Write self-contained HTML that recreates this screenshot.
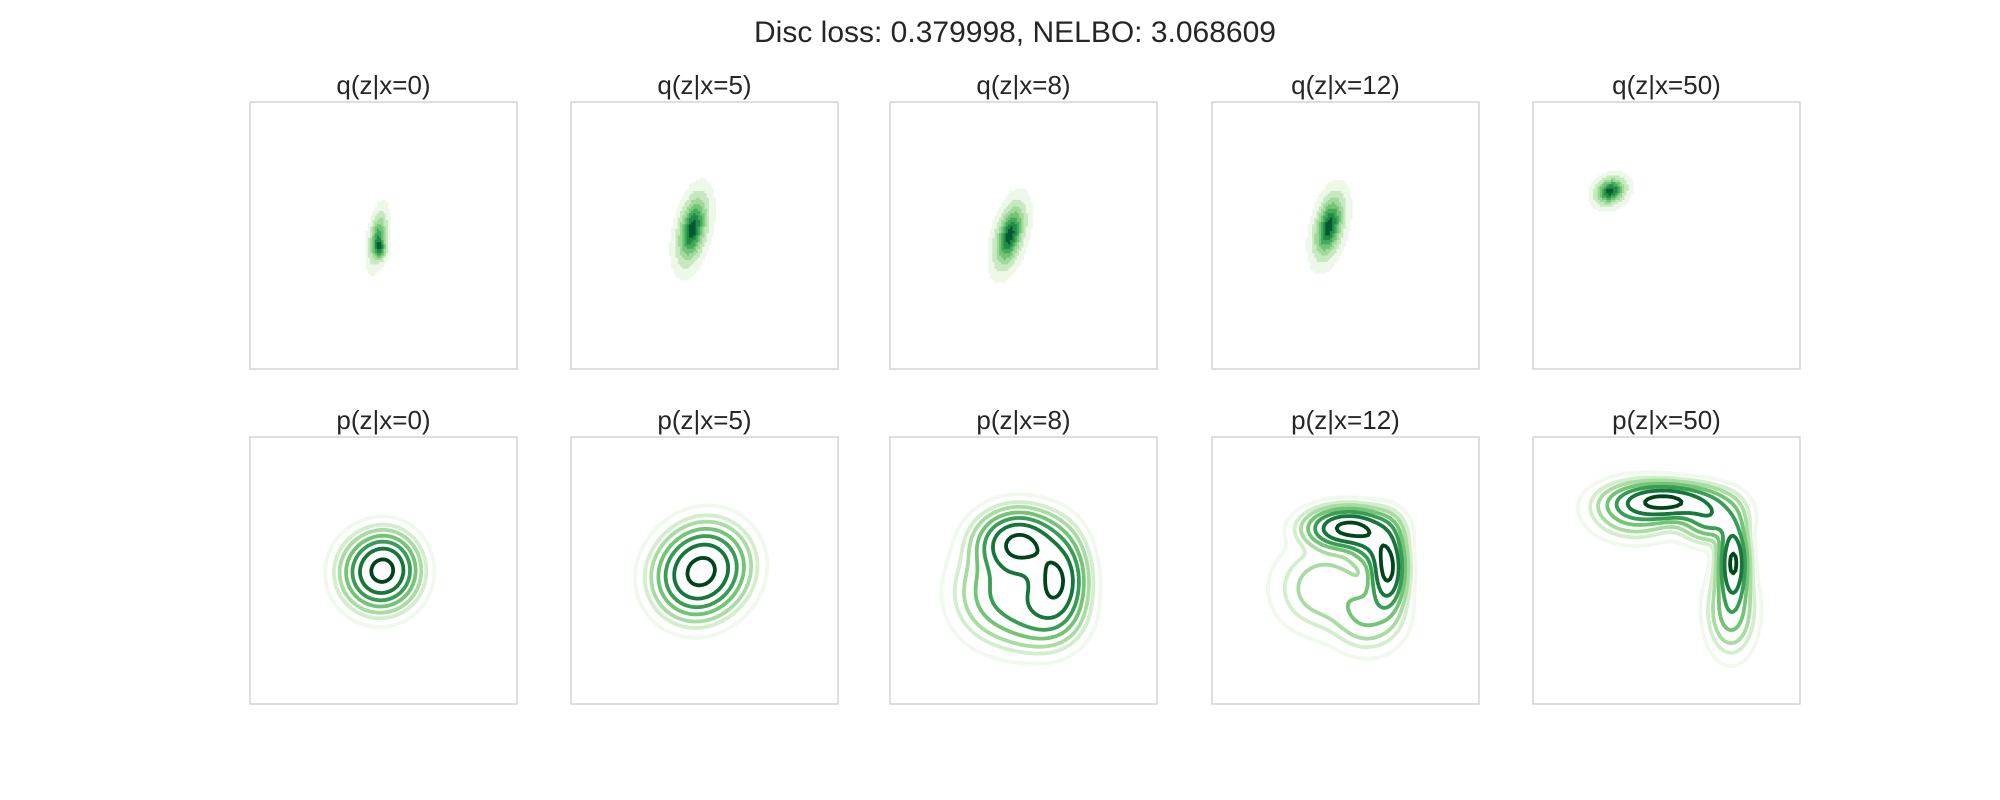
<!DOCTYPE html>
<html><head><meta charset="utf-8"><style>
body{margin:0;background:#fff;width:2000px;height:800px;overflow:hidden;font-family:"Liberation Sans",sans-serif}
svg{display:block}
</style></head><body>
<svg id="fig" width="2000" height="800" xmlns="http://www.w3.org/2000/svg">
<rect width="2000" height="800" fill="#fff"/>
<text x="1015" y="42" font-size="30" text-anchor="middle" fill="#262626" font-family="Liberation Sans, sans-serif">Disc loss: 0.379998, NELBO: 3.068609</text>
</svg>
<script>
const qTitles = ["q(z|x=0)","q(z|x=5)","q(z|x=8)","q(z|x=12)","q(z|x=50)"];
const pTitles = ["p(z|x=0)","p(z|x=5)","p(z|x=8)","p(z|x=12)","p(z|x=50)"];
// Gaussian mixture components per panel: [meanX, meanY, sdX, sdY, rho, weight] in axis units (-3..3)
const qComps = [
  [[-0.13,-0.05,0.12,0.35,0.4,1],[-0.06,-0.3,0.08,0.15,0,0.8]],
  [[-0.27,0.14,0.2,0.45,0.4,1]],
  [[-0.31,0.0,0.2,0.42,0.45,1]],
  [[-0.37,0.2,0.2,0.42,0.4,1]],
  [[-1.26,1.0,0.2,0.18,0.2,1]]
];
const pComps = [
  [[-0.1,-0.05,0.45,0.45,0,1],[0.1,0.1,0.35,0.4,0,0.4]],
  [[-0.25,-0.2,0.5,0.5,0,0.6],[0.1,0.15,0.5,0.5,0,0.6]],
  [[-0.1,0.6,0.5,0.4,0,1],[0.75,-0.2,0.35,0.55,0,0.9],[-0.4,-0.5,0.6,0.6,0,0.4],[0.4,-1.0,0.5,0.45,0,0.3]],
  [[0.05,0.95,0.5,0.25,0,1],[0.95,0.05,0.22,0.5,0,1],[0.6,0.6,0.3,0.3,0,0.4],[-0.5,-0.4,0.6,0.55,0,0.18],[0.5,-1.0,0.45,0.45,0,0.22]],
  [[0.0,1.55,0.6,0.22,0,1],[1.5,0.2,0.18,0.5,0,1],[1.0,1.2,0.4,0.3,0,0.5],[-0.7,1.35,0.55,0.35,0,0.3],[1.45,-0.9,0.3,0.55,0,0.3]]
];
const levels = [0.02,0.06,0.11,0.2,0.33,0.53,0.85];
const fillLevels = [0.04,0.15,0.3,0.45,0.6,0.75,0.9];
const lineColors = ["#f1f9ee","#d3eecd","#a9dca3","#74c476","#3a9d55","#17773a","#00441b"];
const fillColors = ["#edf8e9","#c7e9c0","#a1d99b","#74c476","#41ab5d","#238b45","#005a32"];

const NS="http://www.w3.org/2000/svg";
const svg=document.getElementById('fig');
const lefts=[250,571,890,1212,1533], tops=[102,437], S=267, DOM=[-3,3];
function dens(comps,x,y){let s=0;for(const c of comps){const dx=(x-c[0])/c[2],dy=(y-c[1])/c[3],r=c[4];s+=c[5]*Math.exp(-(dx*dx-2*r*dx*dy+dy*dy)/(2*(1-r*r)));}return s;}
const N=120;
function grid(comps){const g=[];let mx=0;for(let j=0;j<=N;j++){g[j]=[];for(let i=0;i<=N;i++){const x=DOM[0]+i/N*6,y=DOM[1]-j/N*6;const d=dens(comps,x,y);g[j][i]=d;if(d>mx)mx=d;}}for(let j=0;j<=N;j++)for(let i=0;i<=N;i++)g[j][i]/=mx;return g;}
function mk(tag,attrs){const e=document.createElementNS(NS,tag);for(const k in attrs)e.setAttribute(k,attrs[k]);return e;}

function drawFrame(l,t,title,name){
  const tx=mk('text',{x:l+S/2,y:t-8,'font-size':26,'text-anchor':'middle',fill:'#262626','font-family':'Liberation Sans, sans-serif'});
  tx.textContent=title;
  
  
  svg.appendChild(tx);
}
function drawBorder(l,t,name){
  const r=mk('rect',{x:l,y:t,width:S,height:S,fill:'none',stroke:'#cccccc','stroke-width':1.3});
  
  
  svg.appendChild(r);
}
function drawFill(p){
  const l=lefts[p],t=tops[0],g=grid(qComps[p]);
  const grp=mk('g',{});
  
  
  const cw=S/N;
  for(let j=0;j<N;j++)for(let i=0;i<N;i++){
    const v=(g[j][i]+g[j][i+1]+g[j+1][i]+g[j+1][i+1])/4;
    let k=-1;for(let m=0;m<fillLevels.length;m++)if(v>=fillLevels[m])k=m;
    if(k<0)continue;
    const r=mk('rect',{x:(l+i*cw).toFixed(2),y:(t+j*cw).toFixed(2),width:(cw+0.4).toFixed(2),height:(cw+0.4).toFixed(2),fill:fillColors[k]});
    grp.appendChild(r);
  }
  svg.appendChild(grp);
}
function drawContours(p){
  const l=lefts[p],t=tops[1],g=grid(pComps[p]);const cw=S/N;
  levels.forEach((lv,li)=>{
    let d='';
    for(let j=0;j<N;j++)for(let i=0;i<N;i++){
      const a=g[j][i],b=g[j][i+1],c=g[j+1][i+1],e=g[j+1][i];
      const pts=[];
      const x0=l+i*cw,y0=t+j*cw;
      if((a>=lv)!==(b>=lv))pts.push([x0+(lv-a)/(b-a)*cw,y0]);
      if((b>=lv)!==(c>=lv))pts.push([x0+cw,y0+(lv-b)/(c-b)*cw]);
      if((e>=lv)!==(c>=lv))pts.push([x0+(lv-e)/(c-e)*cw,y0+cw]);
      if((a>=lv)!==(e>=lv))pts.push([x0,y0+(lv-a)/(e-a)*cw]);
      for(let k=0;k+1<pts.length;k+=2)d+='M'+pts[k][0].toFixed(1)+' '+pts[k][1].toFixed(1)+'L'+pts[k+1][0].toFixed(1)+' '+pts[k+1][1].toFixed(1);
    }
    if(!d)return;
    const path=mk('path',{d:d,fill:'none',stroke:lineColors[li],'stroke-width':3.8,'stroke-linecap':'round'});
    
    
    svg.appendChild(path);
  });
}
for(let p=0;p<5;p++){
  drawFrame(lefts[p],tops[0],qTitles[p],'q-panel-'+p);
  drawFill(p);
  drawBorder(lefts[p],tops[0],'q-panel-'+p);
  drawFrame(lefts[p],tops[1],pTitles[p],'p-panel-'+p);
  drawContours(p);
  drawBorder(lefts[p],tops[1],'p-panel-'+p);
}
</script>
</body></html>
